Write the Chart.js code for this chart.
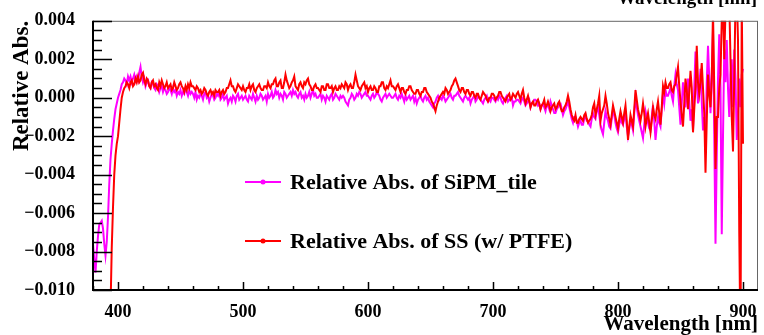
<!DOCTYPE html>
<html>
<head>
<meta charset="utf-8">
<script src="https://cdn.jsdelivr.net/npm/chart.js"></script>
<style>
  html, body { margin: 0; padding: 0; background: #fff; }
  canvas { display: block; }
</style>
</head>
<body>
<canvas id="absChart" width="764" height="335"></canvas>
<script>
  // sampled every 1 nm from 380 to 900 nm
  const startNm = 380;
  const stepNm = 1;

  // values in units of 1e-4 (relative absorbance), one row = 20 nm
  const UNIT = 1e-4;

  const sipmTile = [
    -76, -84, -91, -80, -72, -66, -65, -64, -68, -76, -82, -75, -62, -45, -32, -24, -17, -11, -6, -3,
    0, 2, 4, 7, 8, 10, 9, 7, 11, 9, 11, 8, 10, 12, 9, 11, 9, 13, 16, 11,
    8, 10, 6, 8, 9, 6, 5, 8, 7, 5, 4, 7, 6, 3, 5, 6, 3, 5, 4, 2,
    3, 5, 4, 2, 5, 3, 4, 1, 3, 2, 4, 1, 3, 2, 5, 3, 1, 4, 2, 3,
    2, 0, 3, -1, 1, 0, 2, 1, -1, 2, 3, 0, 1, -2, 0, 2, 1, -1, 0, 2,
    1, 3, -1, 0, 2, -1, 0, 1, -3, -1, 0, -2, 1, 0, -2, 1, 2, -1, 0, 1,
    -1, 0, 1, -1, -2, 1, 0, -1, 2, 0, -2, 1, -1, 0, 2, 1, -1, 0, 1, -2,
    2, 0, 1, 3, 0, 1, 4, 2, 3, 0, 2, 1, -1, 3, 2, 0, 1, 2, 3, 1,
    4, 2, 3, 1, 0, 2, 3, 0, 1, -1, 2, 0, 1, 3, 0, 2, 4, 1, 2, 0,
    0, 1, 2, -1, 1, 0, -2, 1, 0, -1, 1, 2, -1, 0, 2, 1, 0, -1, 1, 0,
    1, 0, -2, -3, -4, -1, 0, 2, 1, -1, 0, 2, 1, 3, 2, 0, 1, 2, 3, 1,
    1, 0, -1, 1, 2, 0, 1, 3, 2, 1, -1, -2, 0, 1, 2, 0, 1, 2, 1, 0,
    0, 1, 2, 0, -1, 1, 0, 2, 0, -2, 1, -1, 0, 1, -1, 0, 1, -2, 0, -3,
    -1, 0, 1, -1, -2, 0, 1, -1, 0, -2, -3, -4, -5, -3, -2, 0, 1, -1, 0, -1,
    1, 0, -2, -1, 0, 1, 2, 0, -1, 1, 1, 2, 3, 1, 0, -1, -2, 0, 1, 0,
    -1, 0, -3, -1, 0, 1, -2, -1, 1, 0, -1, -2, -3, -1, 0, 1, -2, -1, -2, 0,
    0, -1, -2, 0, -1, 1, 0, -2, -3, -1, 0, 1, -2, -1, -1, 0, -4, -2, -2, -1,
    -1, -2, -3, -1, 0, -2, -4, -3, -2, -1, -5, -3, -3, -1, -1, -2, -4, -3, -6, -4,
    -3, -5, -7, -4, -4, -6, -2, -4, -6, -8, -8, -6, -5, -3, -3, -6, -9, -7, -6, -4,
    -2, -5, -8, -11, -13, -10, -10, -12, -15, -13, -12, -14, -14, -11, -9, -12, -12, -14, -15, -11,
    -8, -10, -11, -7, -5, -9, -14, -17, -19, -13, -7, -10, -12, -15, -16, -11, -6, -9, -13, -16,
    -18, -14, -10, -13, -14, -11, -8, -15, -20, -16, -12, -14, -17, -8, 0, -5, -9, -12, -15, -18,
    -21, -14, -7, -10, -13, -16, -17, -10, -4, -12, -22, -15, -10, -13, -15, -6, 2, -3, 4, 1,
    1, 3, 5, 1, -2, 6, 12, 7, 4, -5, -14, -3, 8, 2, -5, 3, 10, -2, -12, -6,
    -17, 5, 24, 8, -3, 6, 15, -2, -17, -10, -20, 8, 27, 10, -8, 12, 35, -20, -76, -30,
    10, 33, 5, -71, -20, 25, 8, 30, 5, -10, 12, 20, -5, 25, 10, -22, -10, 10, -5, 12,
    15
  ];

  const ssPtfe = [
    -140, -140, -140, -140, -140, -140, -140, -140, -140, -140, -140, -140, -140, -140, -110, -78, -57, -40, -30, -24,
    -20, -13, -6, 0, 3, 5, 6, 8, 7, 5, 8, 9, 6, 7, 10, 8, 11, 8, 9, 12,
    13, 9, 7, 10, 9, 6, 5, 8, 9, 6, 7, 5, 4, 8, 6, 9, 7, 5, 6, 8,
    5, 6, 7, 4, 5, 8, 6, 4, 5, 7, 8, 6, 5, 3, 6, 4, 7, 5, 8, 6,
    6, 5, 4, 6, 5, 3, 4, 2, 3, 5, 4, 2, 1, 3, 4, 2, 3, 1, 4, 3,
    3, 4, 1, 3, 4, 2, 3, 5, 5, 7, 9, 6, 6, 4, 3, 5, 7, 6, 5, 4,
    6, 4, 3, 5, 5, 7, 4, 6, 7, 4, 3, 5, 6, 7, 5, 4, 4, 6, 6, 5,
    8, 6, 5, 7, 7, 9, 10, 6, 6, 8, 9, 5, 5, 8, 12, 9, 7, 5, 6, 8,
    9, 11, 6, 5, 4, 7, 8, 6, 5, 8, 7, 9, 10, 7, 6, 4, 4, 6, 7, 5,
    5, 4, 3, 6, 6, 4, 4, 7, 7, 5, 5, 6, 3, 5, 6, 4, 4, 6, 5, 7,
    6, 5, 8, 7, 4, 6, 7, 5, 5, 8, 12, 9, 6, 5, 4, 6, 7, 8, 5, 6,
    3, 5, 6, 4, 4, 6, 5, 3, 3, 6, 6, 8, 8, 5, 4, 6, 5, 7, 9, 6,
    6, 5, 4, 6, 7, 5, 3, 5, 5, 3, 2, 4, 4, 6, 6, 4, 3, 2, 2, 4,
    4, 2, 1, 3, 3, 5, 5, 3, 2, 1, 0, -2, -3, -5, -7, -4, -2, 0, 1, 2,
    3, 2, 5, 4, 2, 3, 4, 6, 7, 9, 10, 8, 6, 4, 3, 5, 5, 3, 2, 4,
    4, 2, 1, 3, 3, 1, 0, 2, 2, 0, -1, 1, 3, 2, 1, -1, -2, 0, 0, 2,
    2, 1, -1, 0, 1, 3, 3, 1, 0, -1, -2, 0, 1, 2, -1, 0, 2, 1, 0, 2,
    3, 1, -1, 2, 4, 0, -3, -1, 1, -2, -5, -3, -2, -4, -4, -2, -1, -3, -6, -4,
    -3, -1, -5, -4, -2, -4, -7, -5, -4, -3, -6, -5, -3, -2, -5, -7, -7, -5, -4, -2,
    1, -2, -6, -9, -11, -12, -9, -13, -13, -11, -10, -11, -12, -9, -8, -11, -13, -12, -11, -9,
    -5, -3, -9, -6, -3, 1, -12, -8, -6, -4, 1, -3, -8, -11, -14, -9, -4, -7, -10, -13,
    -16, -11, -7, -10, -13, -8, -4, -12, -22, -15, -9, -12, -15, -6, 4, -1, -6, -9, -12, -8,
    -3, -8, -15, -11, -8, -13, -18, -12, -5, -9, -11, -6, -2, -8, -14, -5, 6, 3, 8, 5,
    5, 7, 8, 4, 3, 6, 7, 12, 16, 6, -2, -9, -15, -3, 10, 4, -6, 3, 14, 5,
    -18, -6, 5, 27, 8, 2, 8, 18, 5, -8, -39, -12, 12, 2, -5, 10, 45, 5, -37, -10,
    -10, 5, 12, 40, 50, 20, 45, 55, 60, 50, 20, -10, -28, 10, 50, 55, 30, -70, -130, 50,
    -24
  ];

  const seriesLabels = ['Relative Abs. of SiPM_tile', 'Relative Abs. of SS (w/ PTFE)'];
  const seriesColors = ['#ff00ff', '#ff0000'];

  const xTicks = [400, 500, 600, 700, 800, 900];
  const yTicks = [-0.010, -0.008, -0.006, -0.004, -0.002, 0.000, 0.002, 0.004];

  const wavelengths = sipmTile.map((_, i) => startNm + i * stepNm);
  const toPoints = arr => arr.map((v, i) => ({ x: wavelengths[i], y: v * UNIT }));

  const serif = '"Liberation Serif", "Times New Roman", serif';

  // ROOT-like frame, inward ticks, axis titles and legend
  const rootFrame = {
    id: 'rootFrame',
    afterDraw(chart) {
      const { ctx, chartArea: a, scales: { x, y } } = chart;
      ctx.save();

      ctx.strokeStyle = '#666';
      ctx.lineWidth = 1;
      ctx.strokeRect(a.left + 0.5, a.top + 0.5, a.right - a.left - 1, a.bottom - a.top - 1);

      ctx.strokeStyle = '#000';
      ctx.lineWidth = 2;
      ctx.beginPath();
      ctx.moveTo(a.left, a.top);
      ctx.lineTo(a.left, a.bottom);
      ctx.lineTo(a.right, a.bottom);
      ctx.stroke();

      ctx.lineWidth = 1.5;
      ctx.beginPath();
      for (let v = 380; v <= 900; v += 20) {
        const px = Math.round(x.getPixelForValue(v)) + 0.5;
        const len = v % 100 === 0 ? 8 : 4;
        ctx.moveTo(px, a.bottom);
        ctx.lineTo(px, a.bottom - len);
      }
      for (let k = -20; k <= 8; k++) {
        const py = Math.round(y.getPixelForValue(k * 0.0005)) + 0.5;
        const len = k % 4 === 0 ? 19 : 9;
        ctx.moveTo(a.left, py);
        ctx.lineTo(a.left + len, py);
      }
      ctx.stroke();

      ctx.fillStyle = '#000';
      ctx.font = 'bold 21px ' + serif;
      ctx.textAlign = 'right';
      ctx.textBaseline = 'alphabetic';
      ctx.fillText('Wavelength [nm]', 758, 330);

      ctx.font = 'bold 19px ' + serif;
      ctx.fillText('Wavelength [nm]', 757, 4);

      ctx.save();
      ctx.translate(22, a.top);
      ctx.rotate(-Math.PI / 2);
      ctx.font = 'bold 23px ' + serif;
      ctx.textAlign = 'right';
      ctx.textBaseline = 'middle';
      ctx.fillText('Relative Abs.', 0, 0);
      ctx.restore();

      // legend
      const rows = [182, 241];
      chart.data.datasets.forEach((ds, i) => {
        const ly = rows[i];
        ctx.strokeStyle = ds.borderColor;
        ctx.lineWidth = 2;
        ctx.beginPath();
        ctx.moveTo(245, ly);
        ctx.lineTo(281, ly);
        ctx.stroke();
        ctx.fillStyle = ds.borderColor;
        ctx.beginPath();
        ctx.arc(263, ly, 2.5, 0, Math.PI * 2);
        ctx.fill();
        ctx.fillStyle = '#000';
        ctx.font = 'bold 22px ' + serif;
        ctx.textAlign = 'left';
        ctx.textBaseline = 'alphabetic';
        ctx.fillText(ds.label, 290, ly + 7);
      });

      ctx.restore();
    }
  };

  const ctx = document.getElementById('absChart').getContext('2d');
  const absChart = new Chart(ctx, {
    type: 'line',
    data: {
      datasets: [{
        label: seriesLabels[0],
        data: toPoints(sipmTile),
        borderColor: seriesColors[0],
        borderWidth: 2,
        pointRadius: 0,
        tension: 0,
        order: 2
      }, {
        label: seriesLabels[1],
        data: toPoints(ssPtfe),
        borderColor: seriesColors[1],
        borderWidth: 2,
        pointRadius: 0,
        tension: 0,
        order: 1
      }]
    },
    options: {
      responsive: false,
      animation: false,
      devicePixelRatio: 1,
      layout: { padding: { left: 0, right: 6, top: 17, bottom: 0 } },
      plugins: {
        legend: { display: false },
        tooltip: { enabled: false }
      },
      scales: {
        x: {
          type: 'linear',
          min: 380,
          max: 912,
          grid: { display: false },
          border: { display: false },
          afterBuildTicks: s => { s.ticks = xTicks.map(v => ({ value: v })); },
          afterFit: s => { s.height = 45; },
          ticks: {
            color: '#000',
            padding: 4,
            maxRotation: 0,
            autoSkip: false,
            font: { family: serif, size: 18, weight: 'bold' }
          }
        },
        y: {
          min: -0.010,
          max: 0.004,
          grid: { display: false },
          border: { display: false },
          afterBuildTicks: s => { s.ticks = yTicks.map(v => ({ value: v })); },
          afterFit: s => { s.width = 93; },
          ticks: {
            color: '#000',
            padding: 10,
            autoSkip: false,
            font: { family: serif, size: 18, weight: 'bold' },
            callback: v => v.toFixed(3).replace('-', '\u2212')
          }
        }
      }
    },
    plugins: [rootFrame]
  });
</script>
</body>
</html>
